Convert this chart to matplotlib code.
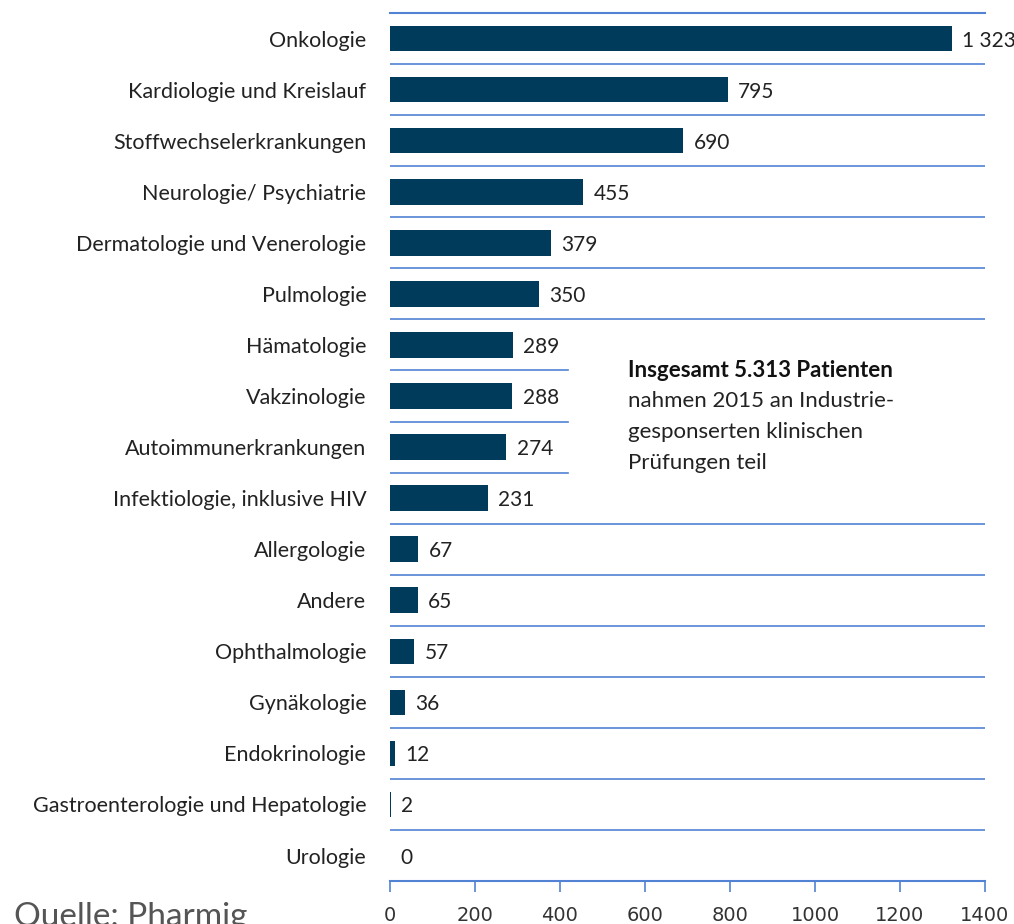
import matplotlib.pyplot as plt

categories = ["Onkologie", "Kardiologie und Kreislauf", "Stoffwechselerkrankungen",
              "Neurologie/ Psychiatrie", "Dermatologie und Venerologie", "Pulmologie",
              "Hämatologie", "Vakzinologie", "Autoimmunerkrankungen",
              "Infektiologie, inklusive HIV", "Allergologie", "Andere", "Ophthalmologie",
              "Gynäkologie", "Endokrinologie", "Gastroenterologie und Hepatologie", "Urologie"]
patients = [1323, 795, 690, 455, 379, 350, 289, 288, 274, 231, 67, 65, 57, 36, 12, 2, 0]
xticks = [0, 200, 400, 600, 800, 1000, 1200, 1400]

bar_color = "#003b5c"
line_color = "#5282d4"
font = "Lato"

fig = plt.figure(figsize=(10.14, 9.24), dpi=100)
ax = fig.add_axes([0.3846, 0.0465, 0.5868, 0.9394])

y = list(range(len(categories)))
ax.barh(y, patients, height=0.5, color=bar_color)
ax.set_ylim(len(categories) - 0.5, -0.5)
ax.set_xlim(0, 1400)

# separators between rows; the three next to the note stop short
short = {6, 7, 8}
for i in range(len(categories)):
    if i in short:
        ax.axhline(i + 0.5, xmin=0, xmax=0.3, color=line_color, lw=1.2)
    elif i < len(categories) - 1:
        ax.axhline(i + 0.5, color=line_color, lw=1.2)
ax.axhline(-0.5, color=line_color, lw=1.5, clip_on=False)

for spine in ["top", "right", "left"]:
    ax.spines[spine].set_visible(False)
ax.spines["bottom"].set_color(line_color)
ax.spines["bottom"].set_linewidth(1.5)

ax.set_yticks(y)
ax.set_yticklabels(categories, fontsize=15.5, family=font, color="#222222")
ax.tick_params(axis="y", length=0, pad=17)
ax.set_xticks(xticks)
ax.set_xticklabels([str(t) for t in xticks], fontsize=14, family="Liberation Sans Narrow",
                   color="#333333")
ax.tick_params(axis="x", length=8, color=line_color, width=1.2, pad=10)

for yi, v in zip(y, patients):
    label = f"{v:,}".replace(",", " ")
    ax.text(v + 24, yi + 0.04, label, va="center", ha="left", fontsize=15,
            family=font, color="#222222")

ax.text(0.4, 0.588, "Insgesamt 5.313 Patienten", transform=ax.transAxes,
        fontsize=16, family=font, fontweight="bold", color="#111111", va="center")
note = ["nahmen 2015 an Industrie-", "gesponserten klinischen", "Prüfungen teil"]
for k, line in enumerate(note):
    ax.text(0.4, 0.588 - (k + 1) * 0.0355, line, transform=ax.transAxes,
            fontsize=16, family=font, color="#222222", va="center")

fig.text(0.014, 0.008, "Quelle: Pharmig", fontsize=24, family=font, color="#555555",
         va="center", ha="left")

fig.savefig("out.png", dpi=100)
